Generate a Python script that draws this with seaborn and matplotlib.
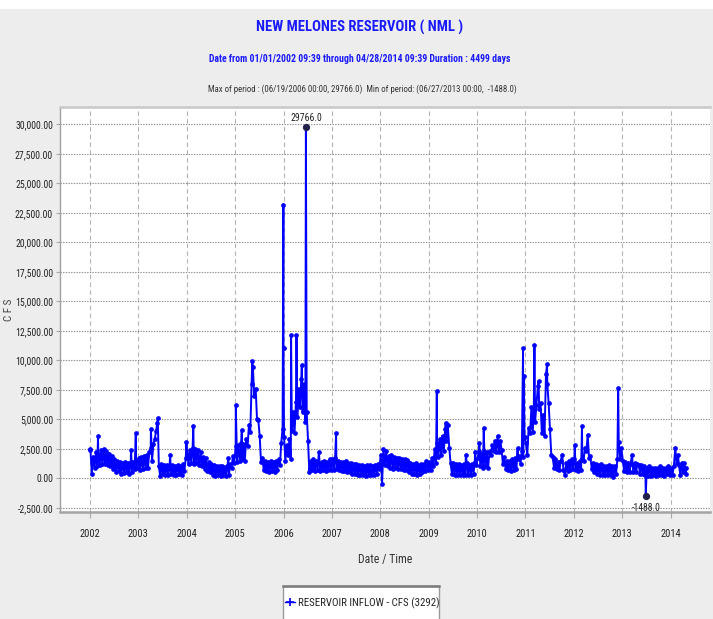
import numpy as np
import pandas as pd
import matplotlib
matplotlib.use("Agg")
import matplotlib.pyplot as plt
import matplotlib.dates as mdates
from matplotlib.ticker import FuncFormatter
from matplotlib.lines import Line2D
from matplotlib.patches import Rectangle
from matplotlib import font_manager
import seaborn as sns

# ---------------- data (~10-day samples, high/low of the band) ----------------
years = [2002, 2003, 2004, 2005, 2006, 2007, 2008, 2009, 2010, 2011, 2012, 2013, 2014]

flow_2002 = [2400, 400, 1800, 900, 2200, 1000, 2100, 1100, 2400, 1200, 2500, 1200,
             2300, 1100, 2100, 1000, 1900, 800, 1600, 500, 1500, 600, 1400, 400,
             1300, 450, 1400, 500, 1300, 400, 1400, 500, 1400, 800, 1500, 900]
flow_2003 = [1700, 700, 1800, 800, 1900, 900, 2000, 900, 2200, 2600, 1500, 2900,
             3300, 4000, 4700, 1000, 200, 1200, 400, 1100, 300, 1100, 300, 1000,
             400, 1100, 300, 1000, 300, 1100, 400, 1000, 300, 1200, 600, 1700]
flow_2004 = [2100, 1200, 2400, 1300, 2600, 1200, 2500, 1300, 2400, 1100, 2200, 1000,
             1800, 800, 1700, 600, 1400, 500, 1200, 300, 1100, 200, 1000, 250,
             1000, 200, 1000, 250, 950, 200, 1100, 300, 1200, 900, 1900, 1300]
flow_2005 = [2700, 1400, 2800, 1500, 3000, 1600, 2900, 1500, 3300, 2700, 4500, 3900,
             8000, 9400, 7000, 7600, 5000, 4900, 3600, 1400, 1700, 700, 1500, 600,
             1400, 500, 1500, 600, 1400, 500, 1500, 700, 1600, 1100, 3000, 4200]
flow_2006 = [3500, 1500, 2800, 2000, 3300, 1600, 4000, 5600, 3800, 6500, 5200, 7600,
             6000, 8400, 5600, 8000, 4800, 5600, 3200, 500, 1500, 700, 1600, 600,
             1500, 700, 2200, 600, 1400, 700, 1500, 600, 1400, 700, 1600, 700]
flow_2007 = [1600, 700, 1700, 800, 1500, 700, 1400, 600, 1400, 600, 1500, 500,
             1300, 500, 1300, 400, 1200, 400, 1200, 300, 1100, 300, 1100, 300,
             1000, 200, 1100, 300, 1100, 250, 1000, 300, 1100, 400, 1200, 800]
flow_2008 = [2000, -450, 2500, 1100, 2300, 1000, 1900, 900, 2000, 800, 1800, 900,
             1700, 800, 1700, 800, 1600, 700, 1600, 700, 1400, 500, 1300, 400,
             1200, 400, 1300, 300, 1100, 400, 1200, 500, 1200, 600, 1500, 700]
flow_2009 = [1400, 700, 1700, 1000, 2500, 1300, 3000, 1800, 3300, 2000, 3600, 2300,
             4200, 3200, 4500, 2600, 1300, 400, 1300, 300, 1200, 300, 1200, 300,
             1100, 300, 1200, 300, 1300, 300, 1100, 300, 1200, 400, 1400, 1100]
flow_2010 = [1700, 2300, 1000, 2100, 900, 2300, 1000, 2200, 900, 2300, 2000, 2800,
             2300, 3200, 2200, 3600, 2200, 3200, 2400, 1200, 1800, 800, 1500, 700,
             1500, 600, 1600, 700, 1700, 800, 1600, 1900, 1200, 2300, 1800, 3500]
flow_2011 = [3000, 2000, 4300, 3800, 6000, 3900, 5800, 4800, 6200, 7800, 5900, 6400,
             3800, 5400, 3600, 8800, 8000, 6400, 4200, 2000, 1800, 900, 1600, 800,
             1400, 700, 1500, 2000, 700, 280, 1300, 600, 1500, 700, 1600, 800]
flow_2012 = [1600, 700, 1300, 600, 1500, 700, 1600, 1500, 2600, 2300, 3700, 1700,
             1900, 800, 1300, 500, 1200, 400, 1100, 300, 1200, 300, 1000, 300,
             1000, 300, 1100, 300, 1000, 100, 1000, 400, 1600, 3100, 1600, 2550]
flow_2013 = [1500, 600, 1400, 500, 1300, 500, 1200, 2000, 500, 1300, 500, 1200,
             1100, 400, 1100, 400, 1000, 300, 900, 200, 1000, 200, 900, 300,
             900, 200, 900, 300, 1000, 250, 900, 200, 900, 400, 1000, 300]
flow_2014 = [900, 300, 1000, 2550, 1300, 2000, 1100, 300, 1300, 500, 1300, 400]

spike_dates = ["2002-01-01", "2002-03-03", "2002-11-07", "2002-12-13", "2003-04-06",
               "2003-05-28", "2003-08-29", "2003-12-30", "2004-02-20", "2004-11-10",
               "2005-01-06", "2005-02-20", "2005-03-25", "2005-05-10", "2005-12-31",
               "2006-01-01", "2006-02-27", "2006-04-05", "2006-04-09", "2006-05-19",
               "2006-06-19", "2007-02-02", "2008-07-19", "2009-03-03", "2009-05-08",
               "2009-10-08", "2009-12-17", "2010-01-18", "2010-02-20", "2010-06-05",
               "2010-11-03", "2010-12-14", "2010-12-20", "2011-03-10", "2011-04-10",
               "2011-06-05", "2011-06-13", "2012-01-08", "2012-03-03", "2012-12-01",
               "2013-06-27", "2014-04-28"]
spike_values = [2500, 3550, 2400, 3800, 4200,
                5100, 2000, 3100, 4400, 1700,
                6200, 4100, 7800, 9900, 23200,
                11000, 12150, 19900, 12150, 9600,
                29766, 3800, 1560, 7400, 4700,
                2000, 2270, 3000, 4260, 7500,
                2550, 11000, 8660, 11270, 8240,
                9900, 9650, 2840, 4400, 7670,
                -1488, 900]

ytick_values = [-2500, 0, 2500, 5000, 7500, 10000, 12500, 15000, 17500,
                20000, 22500, 25000, 27500, 30000]
max_date, max_value = "2006-06-19", 29766.0
min_date, min_value = "2013-06-27", -1488.0

title_1 = "NEW MELONES RESERVOIR ( NML )"
title_2 = "Date from 01/01/2002 09:39 through 04/28/2014 09:39 Duration : 4499 days"
title_3 = "Max of period : (06/19/2006 00:00, 29766.0)  Min of period: (06/27/2013 00:00,  -1488.0)"
series_label = "RESERVOIR INFLOW - CFS (3292)"

# ---------------- assemble ----------------
yearly = [flow_2002, flow_2003, flow_2004, flow_2005, flow_2006, flow_2007, flow_2008,
          flow_2009, flow_2010, flow_2011, flow_2012, flow_2013, flow_2014]
dates, vals = [], []
for yr, arr in zip(years, yearly):
    k = 0
    for m in range(1, 13):
        for d in (5, 15, 25):
            if k < len(arr):
                dates.append(pd.Timestamp(yr, m, d))
                vals.append(arr[k])
            k += 1
dates += [pd.Timestamp(s) for s in spike_dates]
vals += spike_values
df = pd.DataFrame({"date": dates, "cfs": vals}).drop_duplicates("date").sort_values("date")

# ---------------- fonts: prefer a narrow face ----------------
fl = font_manager.fontManager.ttflist
names = {f.name for f in fl}
NARROW, STRETCH = "Liberation Sans", "normal"
for cand in ["Liberation Sans Narrow", "Arial Narrow", "Roboto Condensed",
             "Noto Sans Condensed", "Open Sans Condensed", "DejaVu Sans Condensed",
             "Noto Sans SemiCondensed"]:
    if cand in names:
        NARROW, STRETCH = cand, "normal"
        break
else:
    for fam in ["Liberation Sans", "Noto Sans", "Roboto", "Open Sans", "DejaVu Sans"]:
        if any(f.name == fam and str(f.stretch) in ("condensed", "semi-condensed",
                                                    "extra-condensed", "75", "87")
               for f in fl):
            NARROW, STRETCH = fam, "condensed"
            break

# ---------------- figure ----------------
BG = "#ededed"
fig = plt.figure(figsize=(7.13, 6.19), dpi=100, facecolor=BG)
fig.patches.append(Rectangle((0, 1 - 9 / 619), 1, 9 / 619, transform=fig.transFigure,
                             facecolor="white", edgecolor="none", zorder=0))
ax = fig.add_axes([60 / 713, 1 - 512 / 619, 650 / 713, 405 / 619])
ax.set_facecolor("white")

sns.lineplot(data=df, x="date", y="cfs", ax=ax, color="#0000ff", lw=1.4,
             marker="o", markersize=3.4, markeredgewidth=0, estimator=None,
             sort=True, legend=False, zorder=3)

# max / min markers + labels
for dt, v, off in [(max_date, max_value, 6.5), (min_date, min_value, -8.5)]:
    t = pd.Timestamp(dt)
    ax.plot([t], [v], "o", color="#20204a", ms=4.2, zorder=4)
    ax.annotate(f"{v:.1f}", xy=(t, v), xytext=(0, off), textcoords="offset points",
                ha="center", va="center", fontsize=7, family=NARROW,
                fontstretch=STRETCH, color="#222222", zorder=5)

ax.set_xlim(pd.Timestamp("2001-05-20"), pd.Timestamp("2014-10-25"))
ax.set_ylim(-2856, 31466)
ax.set_yticks(ytick_values)
ax.yaxis.set_major_formatter(FuncFormatter(lambda v, p: f"{v:,.2f}"))
ax.xaxis.set_major_locator(mdates.YearLocator())
ax.xaxis.set_major_formatter(mdates.DateFormatter("%Y"))

ax.yaxis.grid(True, linestyle=(0, (1.2, 1.2)), color="#8c8c8c", lw=0.8)
ax.xaxis.grid(True, linestyle=(0, (4, 3)), color="#b4b4b4", lw=0.8)
ax.set_axisbelow(True)

for lab in ax.get_xticklabels():
    lab.set_family(NARROW); lab.set_fontstretch(STRETCH); lab.set_fontsize(7.5)
for lab in ax.get_yticklabels():
    lab.set_family(NARROW); lab.set_fontstretch(STRETCH); lab.set_fontsize(7)
ax.tick_params(axis="x", length=4, color="#a8a8a8", pad=8, labelcolor="#222222")
ax.tick_params(axis="y", length=3, color="#a8a8a8", pad=2, labelcolor="#222222")

ax.spines["top"].set_color("#c8c8c8"); ax.spines["top"].set_linewidth(1.8)
ax.spines["bottom"].set_color("#a4a4a4"); ax.spines["bottom"].set_linewidth(1.8)
ax.spines["left"].set_color("#a0a0a0"); ax.spines["left"].set_linewidth(1.0)
ax.spines["right"].set_visible(False)

ax.set_xlabel("Date / Time", family=NARROW, fontstretch=STRETCH, fontsize=8.5,
              color="#333333", labelpad=10)
ax.set_ylabel("C F S", family=NARROW, fontstretch=STRETCH, fontsize=8,
              color="#444444")
ax.yaxis.set_label_coords(-46 / 650, 0.5)

# titles
fig.text(360 / 713, 1 - 27 / 619, title_1, ha="center", va="center", fontsize=10.5,
         fontweight="bold", family=NARROW, fontstretch=STRETCH, color="#1a1aff")
fig.text(360 / 713, 1 - 59 / 619, title_2, ha="center", va="center", fontsize=7.0,
         fontweight="bold", family=NARROW, fontstretch=STRETCH, color="#1a1aff")
fig.text(362 / 713, 1 - 89 / 619, title_3, ha="center", va="center", fontsize=6.3,
         family=NARROW, fontstretch=STRETCH, color="#333333")

# legend (box runs off the bottom edge as in the reference)
fig.patches.append(Rectangle((283 / 713, -0.02), 156 / 713, 0.02 + (619 - 586) / 619,
                             transform=fig.transFigure, facecolor="white",
                             edgecolor="#9a9a9a", lw=1.0, zorder=1))
fig.add_artist(Line2D([283 / 713, 439 / 713], [1 - 586 / 619, 1 - 586 / 619],
                      transform=fig.transFigure, color="#7a7a7a", lw=1.8, zorder=2))
handle = Line2D([], [], color="#0000ff", lw=1.0, marker="+", ms=6, mew=1.2)
leg = fig.legend([handle], [series_label], loc="center left",
                 bbox_to_anchor=(283 / 713, 1 - 603 / 619), frameon=False,
                 handlelength=0.9, handletextpad=0.25, borderpad=0.2, borderaxespad=0,
                 prop=dict(family=NARROW, stretch=STRETCH, size=7.8))
for t in leg.get_texts():
    t.set_color("#222222")

fig.savefig("out.png", dpi=100, facecolor=BG)
